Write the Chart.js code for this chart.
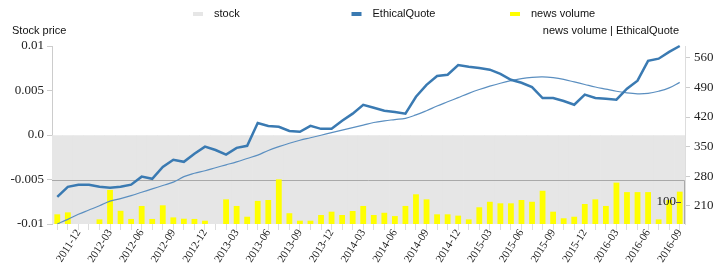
<!DOCTYPE html>
<html>
<head>
<meta charset="utf-8">
<script src="https://cdn.jsdelivr.net/npm/chart.js@4.4.1/dist/chart.umd.min.js"></script>
<style>
html, body { margin: 0; padding: 0; background: #fff; }
</style>
</head>
<body>
<canvas id="chart" width="718" height="266"></canvas>
<script>
// monthly categories, 2011-10 .. 2016-09
const months = [
  '2011-10','2011-11','2011-12','2012-01','2012-02','2012-03','2012-04','2012-05','2012-06','2012-07',
  '2012-08','2012-09','2012-10','2012-11','2012-12','2013-01','2013-02','2013-03','2013-04','2013-05',
  '2013-06','2013-07','2013-08','2013-09','2013-10','2013-11','2013-12','2014-01','2014-02','2014-03',
  '2014-04','2014-05','2014-06','2014-07','2014-08','2014-09','2014-10','2014-11','2014-12','2015-01',
  '2015-02','2015-03','2015-04','2015-05','2015-06','2015-07','2015-08','2015-09','2015-10','2015-11',
  '2015-12','2016-01','2016-02','2016-03','2016-04','2016-05','2016-06','2016-07','2016-08','2016-09'
];

const ethicalQuote = [
  231,255,260,260,255,253,255,260,279,274,
  302,319,314,333,350,342,331,347,352,406,
  399,397,387,385,399,392,392,411,428,449,
  442,435,432,428,468,496,517,520,543,539,
  536,532,522,508,501,491,465,465,458,449,
  473,465,463,461,487,506,553,558,574,588
];

// thinner smoothed EthicalQuote line
const ethicalTrend = [
  167,178,190,200,210,221,227,234,242,250,
  258,266,279,287,293,300,307,314,322,330,
  341,350,358,365,371,377,383,389,395,401,
  407,411,414,417,425,435,446,456,466,476,
  485,493,500,506,511,514,515,513,509,503,
  497,491,486,481,477,475,476,481,489,502
];

const newsVolume = [
  44,53,0,0,21,155,60,23,82,23,
  85,30,24,23,15,0,112,82,33,105,
  109,203,49,15,15,41,56,41,59,82,
  41,51,36,82,135,112,44,44,38,21,
  76,101,94,94,109,101,151,56,26,33,
  91,112,82,188,145,145,145,21,109,147
];

// stock band (gray), 0 down to -0.01
const stock = [
  -0.01,-0.01,-0.01,-0.01,-0.01,-0.01,-0.01,-0.01,-0.01,-0.01,
  -0.01,-0.01,-0.01,-0.01,-0.01,-0.01,-0.01,-0.01,-0.01,-0.01,
  -0.01,-0.01,-0.01,-0.01,-0.01,-0.01,-0.01,-0.01,-0.01,-0.01,
  -0.01,-0.01,-0.01,-0.01,-0.01,-0.01,-0.01,-0.01,-0.01,-0.01,
  -0.01,-0.01,-0.01,-0.01,-0.01,-0.01,-0.01,-0.01,-0.01,-0.01,
  -0.01,-0.01,-0.01,-0.01,-0.01,-0.01,-0.01,-0.01,-0.01,-0.01
];

const rightTicks = [210, 280, 350, 420, 490, 560];
const newsTicks = [100];
const newsBoxTop = 200;

const serif = 'Liberation Serif';
const sans = 'Liberation Sans';

const overlay = {
  id: 'overlay',
  afterDatasetDraw(chart, args) {
    if (chart.data.datasets[args.index].label !== 'stock') return;
    const ctx = chart.ctx, a = chart.chartArea;
    const yTop = Math.round(chart.scales.yNews.getPixelForValue(newsBoxTop)) + 0.5;
    ctx.save();
    ctx.strokeStyle = '#a9a9a9';
    ctx.lineWidth = 1;
    ctx.beginPath();
    ctx.moveTo(a.left, yTop);
    ctx.lineTo(a.right - 0.5, yTop);
    ctx.lineTo(a.right - 0.5, a.bottom);
    ctx.stroke();
    ctx.restore();
  },
  afterDraw(chart) {
    const ctx = chart.ctx, a = chart.chartArea;
    ctx.save();
    // inner news volume axis label
    ctx.font = '13px "' + serif + '"';
    ctx.fillStyle = '#222';
    ctx.textAlign = 'right';
    ctx.textBaseline = 'middle';
    ctx.strokeStyle = '#555';
    newsTicks.forEach(v => {
      const y = chart.scales.yNews.getPixelForValue(v);
      ctx.fillText(String(v), a.right - 9, y);
      ctx.beginPath();
      ctx.moveTo(a.right - 9, Math.round(y) + 0.5);
      ctx.lineTo(a.right - 4, Math.round(y) + 0.5);
      ctx.stroke();
    });
    // axis titles
    ctx.font = '11px "' + sans + '"';
    ctx.fillStyle = '#111';
    ctx.textAlign = 'left';
    ctx.fillText('Stock price', 12, 31);
    ctx.textAlign = 'right';
    ctx.fillText('news volume | EthicalQuote', a.right - 6, 31);
    // legend
    ctx.textAlign = 'left';
    const items = chart.data.datasets.filter(d => d.legend !== false);
    items.forEach((d, k) => {
      const x = 193 + k * 158.5;
      ctx.fillStyle = d.type === 'line' ? d.borderColor : d.backgroundColor;
      ctx.fillRect(x, 12, 10, 4);
      ctx.fillStyle = '#111';
      ctx.fillText(d.label, x + 21, 14);
    });
    ctx.restore();
  }
};

new Chart(document.getElementById('chart').getContext('2d'), {
  type: 'bar',
  data: {
    labels: months,
    datasets: [
      { label: 'stock', type: 'bar', data: stock, yAxisID: 'y', backgroundColor: '#e6e6e6',
        borderWidth: 0, barPercentage: 1, categoryPercentage: 1, grouped: false, order: 4 },
      { label: 'EthicalQuote', type: 'line', data: ethicalQuote, yAxisID: 'y1', borderColor: '#3a7ab2',
        borderWidth: 2.5, pointRadius: 0, tension: 0, fill: false, order: 1, clip: 4 },
      { label: 'news volume', type: 'bar', data: newsVolume, yAxisID: 'yNews', backgroundColor: '#ffff00',
        borderWidth: 0, barPercentage: 0.55, categoryPercentage: 1, grouped: false, order: 3 },
      { label: 'EthicalQuote trend', legend: false, type: 'line', data: ethicalTrend, yAxisID: 'y1',
        borderColor: '#5b8fc0', borderWidth: 1.2, pointRadius: 0, tension: 0.4, fill: false, order: 2 }
    ]
  },
  options: {
    responsive: false,
    animation: false,
    layout: { padding: { top: 46, left: 0, right: 0, bottom: 0 } },
    plugins: { legend: { display: false }, tooltip: { enabled: false } },
    scales: {
      x: {
        offset: true,
        grid: { offset: false, drawOnChartArea: false, tickLength: 6, color: '#dddddd' },
        border: { display: false },
        ticks: {
          autoSkip: false, minRotation: 58, maxRotation: 58, padding: -3, color: '#222',
          font: { family: serif, size: 11 },
          callback: function (v, i) { return (i - 2) % 3 === 0 ? this.getLabelForValue(v) : ''; }
        },
        afterFit: s => { s.height = 42; }
      },
      y: {
        position: 'left', min: -0.01, max: 0.01,
        grid: { drawOnChartArea: false, tickLength: 5, color: '#cccccc' },
        border: { color: '#cccccc' },
        ticks: {
          stepSize: 0.005, padding: 3, color: '#222', font: { family: serif, size: 13 },
          callback: v => Math.abs(v) < 1e-9 ? '0.0' : String(+v.toFixed(3))
        },
        afterFit: s => { s.width = 52; }
      },
      y1: {
        position: 'right', min: 167, max: 588,
        grid: { drawOnChartArea: false, tickLength: 5, color: '#cccccc' },
        border: { color: '#dddddd' },
        ticks: { padding: 4, color: '#222', font: { family: serif, size: 13 } },
        afterBuildTicks: s => { s.ticks = rightTicks.map(v => ({ value: v })); },
        afterFit: s => { s.width = 33; }
      },
      yNews: { display: false, min: 0, max: 809 }
    }
  },
  plugins: [overlay]
});
</script>
</body>
</html>
